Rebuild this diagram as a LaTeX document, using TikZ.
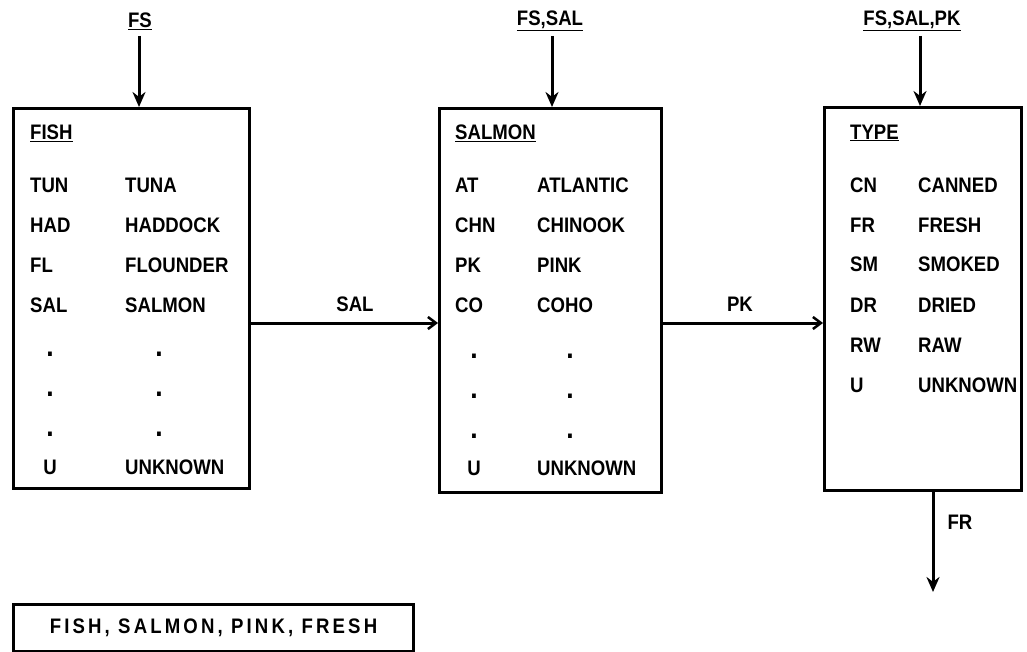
\documentclass[tikz,border=0pt]{standalone}
\usepackage{fontspec}
\setmainfont{Liberation Sans}[FakeStretch=0.885]
\usetikzlibrary{arrows.meta}
\newcommand{\ul}[1]{\underline{#1}}
\begin{document}
\begin{tikzpicture}[x=1pt,y=-1pt,
  box/.style={draw,line width=3pt,anchor=north west,inner sep=0pt},
  txt/.style={anchor=west,inner sep=0pt,font=\fontsize{21}{24}\selectfont\bfseries},
  ctxt/.style={anchor=center,inner sep=0pt,font=\fontsize{21}{24}\selectfont\bfseries},
  dotc/.style={anchor=center,inner sep=0pt,font=\fontsize{30}{32}\selectfont\bfseries},
  conn/.style={line width=3pt},
  vtip/.style={-{Stealth[length=15pt,width=13pt]}},
  htip/.style={-{Straight Barb[length=8pt,width=12pt,line width=2.5pt]}}]
\useasboundingbox (0,0) rectangle (1027,652);
% boxes
\node[box,minimum width=236pt,minimum height=380pt] (fish) at (12,107) {};
\node[box,minimum width=222pt,minimum height=384pt] (salmon) at (438,107) {};
\node[box,minimum width=197pt,minimum height=383pt] (type) at (823,106) {};
\node[box,minimum width=400pt,minimum height=47pt] (res) at (12,603) {};
\node[ctxt,font=\fontsize{21}{24}\selectfont\bfseries\addfontfeature{LetterSpace=15}] (restxt) at (res.center) {FISH, SALMON, PINK, FRESH};
% top labels
\node[ctxt] (lfs) at (140,21) {\ul{FS}};
\node[ctxt] (lfssal) at (550,21) {\ul{FS,SAL}};
\node[ctxt] (lfssalpk) at (912,21) {\ul{FS,SAL,PK}};
\coordinate (a1) at (139,36);
\coordinate (a2) at (552,36);
\coordinate (a3) at (920,36);
\draw[conn,vtip] (a1) -- (a1 |- fish.north);
\draw[conn,vtip] (a2) -- (a2 |- salmon.north);
\draw[conn,vtip] (a3) -- (a3 |- type.north);
% FISH box contents
\node[txt] (fh) at (30,133) {\ul{FISH}};
\node[txt] (f1a) at (30,185) {TUN};   \node[txt] (f1b) at (125,185) {TUNA};
\node[txt] (f2a) at (30,225) {HAD};   \node[txt] (f2b) at (125,225) {HADDOCK};
\node[txt] (f3a) at (30,265) {FL};    \node[txt] (f3b) at (125,265) {FLOUNDER};
\node[txt] (f4a) at (30,305) {SAL};   \node[txt] (f4b) at (125,305) {SALMON};
\node[dotc] (f5a) at (50,354) {.};    \node[dotc] (f5b) at (159,354) {.};
\node[dotc] (f6a) at (50,394) {.};    \node[dotc] (f6b) at (159,394) {.};
\node[dotc] (f7a) at (50,434) {.};    \node[dotc] (f7b) at (159,434) {.};
\node[ctxt] (f8a) at (50,467) {U};    \node[txt] (f8b) at (125,467) {UNKNOWN};
% SALMON box contents
\node[txt] (sh) at (455,133) {\ul{SALMON}};
\node[txt] (s1a) at (455,185) {AT};   \node[txt] (s1b) at (537,185) {ATLANTIC};
\node[txt] (s2a) at (455,225) {CHN};  \node[txt] (s2b) at (537,225) {CHINOOK};
\node[txt] (s3a) at (455,265) {PK};   \node[txt] (s3b) at (537,265) {PINK};
\node[txt] (s4a) at (455,305) {CO};   \node[txt] (s4b) at (537,305) {COHO};
\node[dotc] (s5a) at (474,356) {.};   \node[dotc] (s5b) at (570,356) {.};
\node[dotc] (s6a) at (474,396) {.};   \node[dotc] (s6b) at (570,396) {.};
\node[dotc] (s7a) at (474,436) {.};   \node[dotc] (s7b) at (570,436) {.};
\node[ctxt] (s8a) at (474,468) {U};   \node[txt] (s8b) at (537,468) {UNKNOWN};
% TYPE box contents
\node[txt] (th) at (850,133) {\ul{TYPE}};
\node[txt] (t1a) at (850,185) {CN};   \node[txt] (t1b) at (918,185) {CANNED};
\node[txt] (t2a) at (850,225) {FR};   \node[txt] (t2b) at (918,225) {FRESH};
\node[txt] (t3a) at (850,264) {SM};   \node[txt] (t3b) at (918,264) {SMOKED};
\node[txt] (t4a) at (850,305) {DR};   \node[txt] (t4b) at (918,305) {DRIED};
\node[txt] (t5a) at (850,345) {RW};   \node[txt] (t5b) at (918,345) {RAW};
\node[txt] (t6a) at (850,385) {U};    \node[txt] (t6b) at (918,385) {UNKNOWN};
% horizontal connectors
\coordinate (hy) at (0,323);
\draw[conn,htip] (fish.east |- hy) -- (salmon.west |- hy);
\draw[conn,htip] (salmon.east |- hy) -- (type.west |- hy);
\node[ctxt] (lsal) at (355,304) {SAL};
\node[ctxt] (lpk) at (740,304) {PK};
% FR output
\coordinate (frs) at (933,489);
\coordinate (fre) at (933,592);
\draw[conn,vtip] (frs) -- (fre);
\node[ctxt] (lfr) at (960,522) {FR};
\end{tikzpicture}
\end{document}
